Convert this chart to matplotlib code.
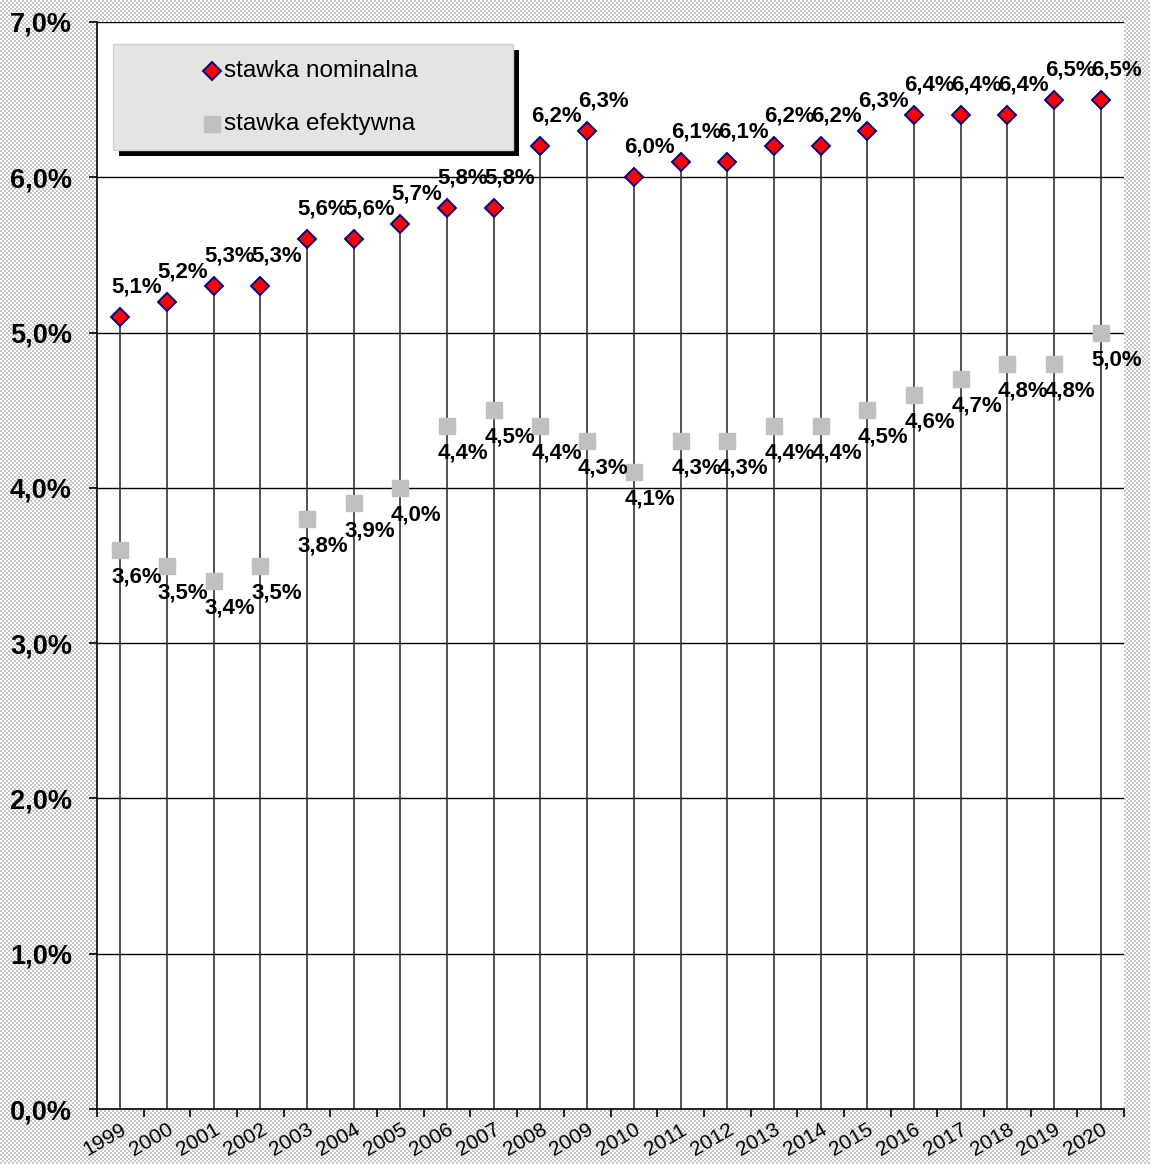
import numpy as np
import matplotlib
matplotlib.use("Agg")
import matplotlib.pyplot as plt
from matplotlib.patches import Rectangle
from matplotlib.lines import Line2D

years = [str(y) for y in range(1999, 2021)]
nominal = [5.1, 5.2, 5.3, 5.3, 5.6, 5.6, 5.7, 5.8, 5.8, 6.2, 6.3, 6.0, 6.1, 6.1,
           6.2, 6.2, 6.3, 6.4, 6.4, 6.4, 6.5, 6.5]
effective = [3.6, 3.5, 3.4, 3.5, 3.8, 3.9, 4.0, 4.4, 4.5, 4.4, 4.3, 4.1, 4.3, 4.3,
             4.4, 4.4, 4.5, 4.6, 4.7, 4.8, 4.8, 5.0]
yticks = [0, 1, 2, 3, 4, 5, 6, 7]
legend_labels = ['stawka nominalna', 'stawka efektywna']

plt.rcParams['font.family'] = ['Liberation Sans', 'DejaVu Sans']

W, H = 1150, 1164
fig = plt.figure(figsize=(W / 100, H / 100), dpi=100)

# checker background
yy, xx = np.mgrid[0:H, 0:W]
chk = ((xx // 2 + yy // 2) % 2).astype(float)
img = np.where(chk[..., None] == 1, np.array([0.78, 0.78, 0.78]), np.array([1.0, 1.0, 1.0]))
fig.figimage(img, 0, 0, zorder=-10)

ax = fig.add_axes([97 / W, 1 - 1109 / H, (1124 - 97) / W, (1109 - 22) / H])
ax.set_facecolor('white')
x = np.arange(len(years))

ax.set_xlim(-0.5, len(years) - 0.5)
ax.set_ylim(0, 7)

for v in yticks[1:]:
    ax.axhline(v, color='black', lw=1.0, zorder=1)

ax.vlines(x, 0, nominal, color='#333333', lw=1.2, zorder=2)

ax.plot(x, effective, linestyle='none', marker='s', ms=11, mfc='#c0c0c0', mec='#c0c0c0', zorder=4)
ax.plot(x, nominal, linestyle='none', marker='D', ms=9, mfc='#ff0000', mec='#000080', mew=1.4, zorder=5)

for xi, v in zip(x, nominal):
    ax.annotate(f"{v:.1f}%".replace('.', ','), (xi, v), xytext=(11.5, 14), textcoords='offset points',
                ha='center', va='bottom', fontsize=16, fontweight='bold', zorder=6)
for xi, v in zip(x, effective):
    ax.annotate(f"{v:.1f}%".replace('.', ','), (xi, v), xytext=(11.5, -12), textcoords='offset points',
                ha='center', va='top', fontsize=16, fontweight='bold', zorder=6)

for s in ['top', 'right']:
    ax.spines[s].set_visible(False)
ax.spines['left'].set_linewidth(1.2)
ax.spines['bottom'].set_linewidth(1.2)

ax.set_yticks(yticks)
ax.set_yticklabels([f"{v:.1f}%".replace('.', ',') for v in yticks], fontsize=19.5, fontweight='bold')
ax.tick_params(axis='y', length=6, width=1.2, pad=12)

ax.set_xticks(x)
ax.set_xticklabels(years, rotation=30, ha='right', rotation_mode='anchor', fontsize=15)
ax.set_xticks(np.arange(len(years) + 1) - 0.5, minor=True)
ax.tick_params(axis='x', which='major', length=0, pad=8)
ax.tick_params(axis='x', which='minor', length=6, width=1.2)

# manual legend box (pixel coords from top-left)
def fx(px):
    return px / W

def fy(py):
    return 1 - py / H

lx0, lx1, ly0, ly1 = 113, 513, 44, 150
fig.add_artist(Rectangle((fx(lx0 + 6), fy(ly1 + 6)), fx(lx1 - lx0), (ly1 - ly0) / H,
                         transform=fig.transFigure, facecolor='black', edgecolor='none', zorder=9))
fig.add_artist(Rectangle((fx(lx0), fy(ly1)), fx(lx1 - lx0), (ly1 - ly0) / H,
                         transform=fig.transFigure, facecolor='#e4e4e4', edgecolor='#d0d0d0',
                         lw=1, zorder=10))
fig.add_artist(Line2D([fx(212)], [fy(71)], transform=fig.transFigure, linestyle='none',
                      marker='D', ms=9, mfc='#ff0000', mec='#000080', mew=1.4, zorder=11))
fig.add_artist(Line2D([fx(212)], [fy(124)], transform=fig.transFigure, linestyle='none',
                      marker='s', ms=11, mfc='#c0c0c0', mec='#c0c0c0', zorder=11))
fig.text(fx(224), fy(71), legend_labels[0], fontsize=17.5, va='center', ha='left', zorder=11)
fig.text(fx(224), fy(124), legend_labels[1], fontsize=17.5, va='center', ha='left', zorder=11)

fig.savefig('out.png', dpi=100)
